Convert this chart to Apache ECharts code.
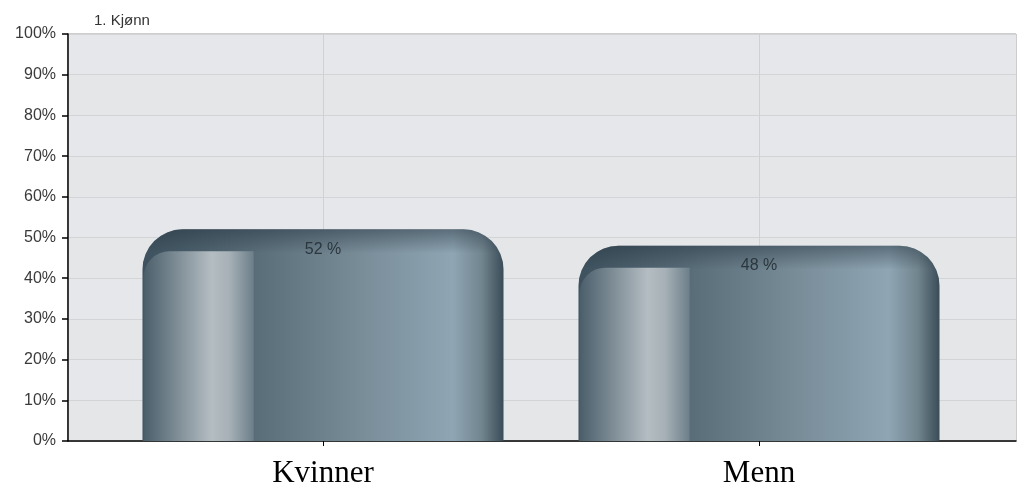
<!DOCTYPE html>
<html>
<head>
<meta charset="utf-8">
<script src="https://cdn.jsdelivr.net/npm/echarts@6/dist/echarts.min.js"></script>
<style>
  html, body { margin: 0; padding: 0; background: #fff; }
  #chart { width: 1025px; height: 491px; }
</style>
</head>
<body>
<div id="chart"></div>
<script>
const title = "1. Kjønn";
const categories = ["Kvinner", "Menn"];
const shares = [52, 48];
const yTicks = [0, 10, 20, 30, 40, 50, 60, 70, 80, 90, 100];

const chart = echarts.init(document.getElementById("chart"));

// farger for den blanke søylen
const bodyGradient = () =>
  new echarts.graphic.LinearGradient(0, 0, 1, 0, [
    { offset: 0, color: "#3d515e" },
    { offset: 0.3, color: "#586c78" },
    { offset: 0.6, color: "#788c98" },
    { offset: 0.86, color: "#8fa5b3" },
    { offset: 0.94, color: "#71858f" },
    { offset: 1, color: "#3a4c57" }
  ]);
const shineGradient = () =>
  new echarts.graphic.LinearGradient(0, 0, 1, 0, [
    { offset: 0, color: "#4a5e6a" },
    { offset: 0.3, color: "#7d8c95" },
    { offset: 0.62, color: "#b4bdc2" },
    { offset: 0.78, color: "#a6b0b6" },
    { offset: 1, color: "#6c7f8a" }
  ]);

function renderBar(params, api) {
  const cat = api.value(0);
  const val = api.value(1);
  const top = api.coord([cat, val]);
  const base = api.coord([cat, 0]);
  const w = api.size([1, 0])[0] * 0.828;
  const left = top[0] - w / 2;
  const h = base[1] - top[1];
  const shineTop = 22;
  return {
    type: "group",
    children: [
      {
        type: "rect",
        shape: { x: left, y: top[1], width: w, height: h, r: [40, 40, 0, 0] },
        style: { fill: bodyGradient() }
      },
      {
        type: "rect",
        shape: { x: left, y: top[1], width: w, height: h, r: [40, 40, 0, 0] },
        style: {
          fill: new echarts.graphic.LinearGradient(0, 0, 0, 1, [
            { offset: 0, color: "rgba(40,55,66,0.5)" },
            { offset: 24 / h, color: "rgba(40,55,66,0)" },
            { offset: 1, color: "rgba(40,55,66,0)" }
          ])
        }
      },
      {
        type: "rect",
        shape: {
          x: left + 1,
          y: top[1] + shineTop,
          width: w * 0.305,
          height: h - shineTop,
          r: [26, 0, 0, 0]
        },
        style: { fill: shineGradient() }
      },
      {
        type: "text",
        x: top[0],
        y: top[1] + 20,
        style: {
          text: val + " %",
          fill: "#2b363e",
          font: "16px 'Liberation Sans', Arial, sans-serif",
          align: "center",
          verticalAlign: "middle"
        }
      }
    ]
  };
}

chart.setOption({
  animation: false,
  backgroundColor: "#fff",
  title: {
    text: title,
    left: 89,
    top: 8,
    textStyle: {
      fontSize: 15,
      fontWeight: "normal",
      color: "#333",
      fontFamily: "'Liberation Sans', Arial, sans-serif"
    }
  },
  grid: [
    {
      left: 68,
      right: 9,
      top: 34,
      bottom: 50,
      show: true,
      backgroundColor: "#e5e7e9",
      borderColor: "#9c9c9c",
      borderWidth: 1
    },
    { left: 323, right: 266, top: 34, bottom: 50 }
  ],
  xAxis: [
    {
      gridIndex: 0,
      type: "value",
      min: 0,
      max: 1,
      axisLine: { show: true, lineStyle: { color: "#000", width: 1.5 } },
      axisTick: { show: false },
      axisLabel: { show: false },
      splitLine: { show: false }
    },
    {
      gridIndex: 1,
      type: "category",
      data: categories,
      boundaryGap: false,
      axisLine: { show: false },
      axisTick: { show: true, length: 5, lineStyle: { color: "#000" } },
      axisLabel: {
        margin: 17,
        fontSize: 31,
        color: "#000",
        fontFamily: "'Liberation Serif', 'Times New Roman', serif"
      },
      splitLine: { show: true, lineStyle: { color: "#cfd2d5" } }
    }
  ],
  yAxis: [
    {
      gridIndex: 0,
      type: "value",
      min: yTicks[0],
      max: yTicks[yTicks.length - 1],
      interval: 10,
      axisLine: { show: true, lineStyle: { color: "#000", width: 1.5 } },
      axisTick: { show: true, length: 6, lineStyle: { color: "#000", width: 1.5 } },
      axisLabel: {
        formatter: "{value}%",
        fontSize: 16,
        color: "#3a3a3a",
        margin: 12,
        fontFamily: "'Liberation Sans', Arial, sans-serif"
      },
      splitLine: { show: true, lineStyle: { color: "#d2d4d6" } },
      splitArea: { show: true, areaStyle: { color: ["#e4e6e8", "#e5e7ea"] } }
    },
    {
      gridIndex: 1,
      type: "value",
      min: 0,
      max: 100,
      show: false
    }
  ],
  series: [
    {
      type: "custom",
      xAxisIndex: 1,
      yAxisIndex: 1,
      clip: false,
      renderItem: renderBar,
      data: shares.map((v, i) => [i, v])
    }
  ]
});
</script>
</body>
</html>
